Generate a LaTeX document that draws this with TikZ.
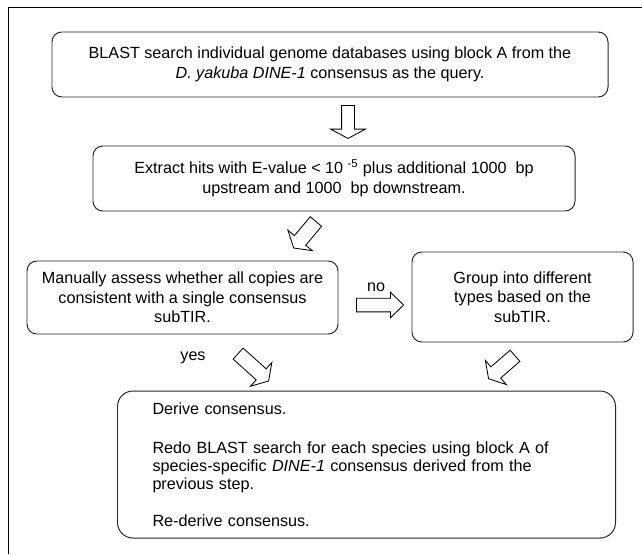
\documentclass[tikz,border=0pt]{standalone}
\usepackage{fontspec}
\setmainfont{Liberation Sans}
\usepackage{tikz}
\usetikzlibrary{shapes,arrows.meta,positioning,calc}
\definecolor{boxline}{gray}{0.15}

\begin{document}
\begin{tikzpicture}[
    stepbox/.style={rectangle, draw=boxline, line width=0.7pt, rounded corners=7pt,
                 align=center, inner sep=0pt, font=\fontsize{11.5}{14}\selectfont},
    blockarr/.style={single arrow, draw=black, fill=white, line width=0.6pt, inner xsep=0pt,
                 single arrow head indent=0pt, anchor=tail},
    lab/.style={inner sep=0pt, font=\fontsize{11.5}{14}\selectfont}
]
    \useasboundingbox (0,0) rectangle (16.05,-13.85);
    % frame
    \draw[line width=0.7pt] (0.2,-13.85) -- (0.2,-0.175) -- (16.05,-0.175);

    \node[stepbox, minimum width=13.9cm, minimum height=1.625cm] (bl) at (8.25,-1.6125)
        {BLAST search individual genome databases using block A from the\\
         \textit{D. yakuba DINE-1} consensus as the query.};
    \node[stepbox, minimum width=12.05cm, minimum height=1.625cm] (ex) at (8.35,-4.4625)
        {Extract hits with E-value < 10 \textsuperscript{-5} plus additional 1000\ \ bp\\
         upstream and 1000\ \ bp downstream.};
    \node[stepbox, minimum width=7.775cm, minimum height=1.825cm] (ma) at (4.5625,-7.4375)
        {Manually assess whether all copies are\\ consistent with a single consensus\\ subTIR.};
    \node[stepbox, minimum width=5.525cm, minimum height=2.25cm] (gr) at (13.0625,-7.425)
        {Group into different\\ types based on the\\ subTIR.};
    \node[stepbox, rounded corners=11pt, align=left, text width=10.7cm, inner xsep=0.875cm,
          minimum height=3.675cm, font=\fontsize{11.5}{12.9}\selectfont] (de) at (9.1625,-11.6125)
        {Derive consensus.\\[0.525cm]
         Redo BLAST search for each species using block A of\\
         species-specific \textit{DINE-1} consensus derived from the\\
         previous step.\\[0.45cm]
         Re-derive consensus.};

    % block arrows
    \node[blockarr, rotate=-90, minimum height=0.825cm, inner ysep=0.15cm,
          single arrow head extend=0.275cm, single arrow tip angle=124] (a1) at (8.7,-2.625) {};
    \node[blockarr, rotate=-130, minimum height=0.865cm, inner ysep=0.175cm,
          single arrow head extend=0.2125cm, single arrow tip angle=116] (a2) at (7.905,-5.53) {};
    \node[blockarr, rotate=0, minimum height=1.18cm, inner ysep=0.16cm,
          single arrow head extend=0.146cm, single arrow tip angle=88] (a3) at (8.9,-7.625) {};
    \node[blockarr, rotate=-42, minimum height=1.025cm, inner ysep=0.175cm,
          single arrow head extend=0.2125cm, single arrow tip angle=116] (a4) at (5.945,-8.8325) {};
    \node[blockarr, rotate=-139, minimum height=0.875cm, inner ysep=0.175cm,
          single arrow head extend=0.2125cm, single arrow tip angle=118] (a5) at (12.8825,-8.8875) {};

    \node[lab] (no) at (9.4,-7.175) {no};
    \node[lab] (yes) at (4.825,-8.95) {yes};
\end{tikzpicture}
\end{document}
